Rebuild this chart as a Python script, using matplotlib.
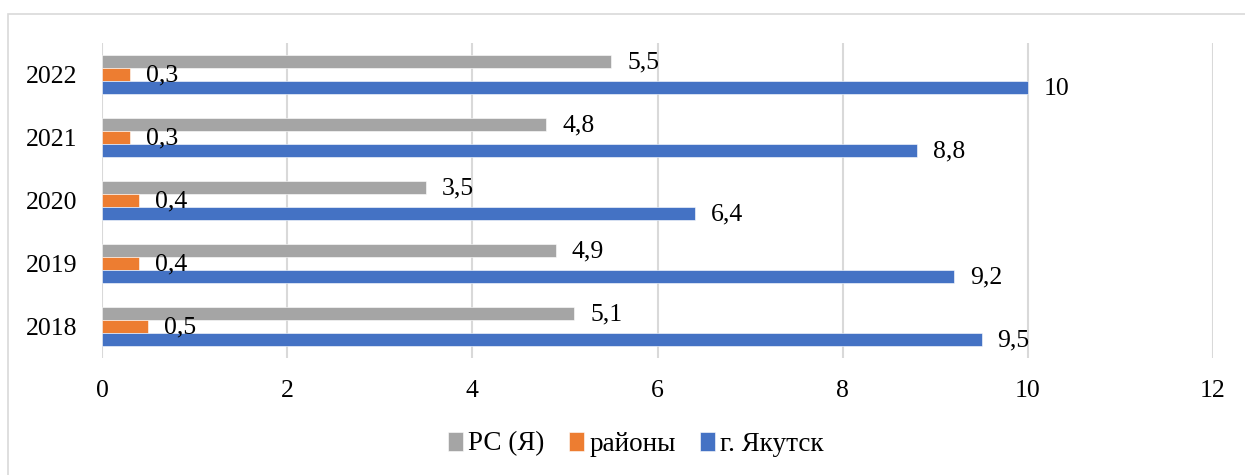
import matplotlib
matplotlib.use("Agg")
import matplotlib.pyplot as plt
from matplotlib.patches import Rectangle
import numpy as np

years = ["2018", "2019", "2020", "2021", "2022"]
rs_ya = [5.1, 4.9, 3.5, 4.8, 5.5]
rayony = [0.5, 0.4, 0.4, 0.3, 0.3]
yakutsk = [9.5, 9.2, 6.4, 8.8, 10]
series_names = ["РС (Я)", "районы", "г. Якутск"]
x_ticks = [0, 2, 4, 6, 8, 10, 12]

colors = ["#A5A5A5", "#ED7D31", "#4472C4"]
grid_color = "#D9D9D9"

plt.rcParams["font.family"] = ["Liberation Serif", "DejaVu Serif"]
FS = 18.5
FS_LEG = 19.5

fig = plt.figure(figsize=(12.45, 4.75), dpi=100)
ax = fig.add_axes([102 / 1245, 1 - 358 / 475, (1213 - 102) / 1245, 315 / 475])

y = np.arange(len(years))
h = 0.206
offsets = [h, 0.0, -h]
handles = []
for vals, off, col, name in zip([rs_ya, rayony, yakutsk], offsets, colors, series_names):
    bars = ax.barh(y + off, vals, height=h, color=col, edgecolor="white",
                   linewidth=0.4, label=name, zorder=3)
    handles.append(bars)
    for yy, v in zip(y + off, vals):
        txt = f"{v:g}".replace(".", ",")
        ax.annotate(txt, xy=(v, yy), xytext=(11.5, -1), textcoords="offset points",
                    ha="left", va="center", fontsize=FS, color="black", zorder=4)

ax.set_xlim(0, 12)
ax.set_ylim(-0.5, 4.5)
ax.set_xticks(x_ticks)
ax.set_xticklabels([str(t) for t in x_ticks], fontsize=FS)
ax.set_yticks(y)
ax.set_yticklabels(years, fontsize=FS)
ax.tick_params(axis="both", length=0)
ax.tick_params(axis="x", pad=16)
ax.tick_params(axis="y", pad=18)
ax.grid(axis="x", color=grid_color, linewidth=1.5, zorder=0)
ax.grid(axis="y", visible=False)
for s in ax.spines.values():
    s.set_visible(False)
ax.set_axisbelow(True)

fig.legend(handles=handles, labels=series_names, loc="center",
           bbox_to_anchor=(636 / 1245, 1 - 444 / 475), ncol=3, frameon=False,
           fontsize=FS_LEG, handlelength=0.55, handleheight=0.7, handletextpad=0.2,
           columnspacing=0.9)

# chart area outline
fig.patches.append(Rectangle((8 / 1245, -0.2), 1.2, 1.2 - 14 / 475,
                             transform=fig.transFigure, fill=False,
                             edgecolor=grid_color, linewidth=1.2, zorder=0))

fig.savefig("out.png", dpi=100, facecolor="white")
